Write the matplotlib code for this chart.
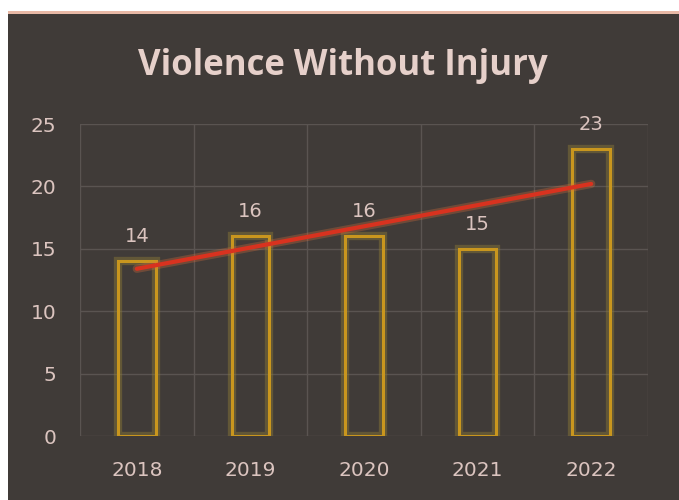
import numpy as np
import matplotlib.pyplot as plt
from matplotlib.patches import Rectangle

# data
years = ["2018", "2019", "2020", "2021", "2022"]
counts = [14, 16, 16, 15, 23]
y_ticks = [0, 5, 10, 15, 20, 25]

bg = "#403b38"
txt = "#dbc4bf"
gold = "#c9961e"
glow = "#8c7a36"

fig = plt.figure(figsize=(6.79, 5.0), dpi=100, facecolor="white")
# dark panel with thin peach border on top
fig.patches.append(Rectangle((8 / 679, 0), 1, (500 - 14) / 500, transform=fig.transFigure,
                             facecolor=bg, edgecolor="none", zorder=-10))
fig.patches.append(Rectangle((8 / 679, (500 - 14) / 500), 1, 2.5 / 500, transform=fig.transFigure,
                             facecolor="#e8b9a6", edgecolor="none", zorder=-10))

ax = fig.add_axes([80 / 679, 64 / 500, 568 / 679, 312 / 500])
ax.set_facecolor("none")

x = np.arange(len(years))

# hollow bars with a soft glow
ax.bar(x, counts, width=0.33, facecolor="none", edgecolor=glow, linewidth=6, alpha=0.45, zorder=2)
ax.bar(x, counts, width=0.33, facecolor="none", edgecolor=gold, linewidth=2.2, zorder=3)

# linear trendline
k, b = np.polyfit(x, counts, 1)
ax.plot(x, k * x + b, color="#e0703a", linewidth=6, alpha=0.3, solid_capstyle="round", zorder=4)
ax.plot(x, k * x + b, color="#d8321f", linewidth=3, solid_capstyle="round", zorder=5)

for xi, v in zip(x, counts):
    ax.annotate(str(v), (xi, v), xytext=(0, 11), textcoords="offset points",
                ha="center", va="bottom", color=txt, fontsize=14, annotation_clip=False)

ax.set_xlim(-0.5, len(years) - 0.5)
ax.set_ylim(0, 25)
ax.set_yticks(y_ticks)
ax.set_xticks(x)
ax.set_xticklabels(years)
ax.set_xticks(np.arange(-0.5, len(years), 1), minor=True)
ax.grid(True, which="minor", axis="x", color="#5a5451", linewidth=1)
ax.grid(True, which="major", axis="y", color="#5a5451", linewidth=1)
ax.tick_params(which="both", length=0)
ax.tick_params(axis="x", pad=18, labelsize=14.5, labelcolor=txt)
ax.tick_params(axis="y", pad=17, labelsize=14.5, labelcolor=txt)
for s in ax.spines.values():
    s.set_visible(False)
ax.set_axisbelow(True)

fig.text(343 / 679, 1 - 66 / 500, "Violence Without Injury", ha="center", va="center",
         color="#e6d0ca", fontsize=25, fontweight="bold", family="Open Sans")

fig.savefig("out.png", dpi=100, facecolor="white")
